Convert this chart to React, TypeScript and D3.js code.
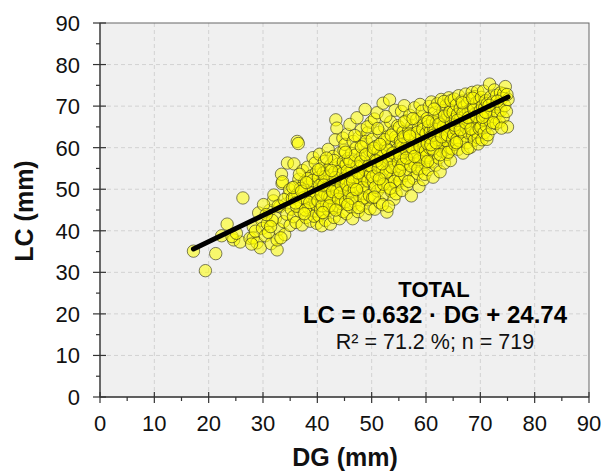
import React from "react";
import * as d3 from "d3";

// DG (mm), LC (mm) pairs, grouped by DG band
const band17to30 = [
  [17.2, 35.1], [19.4, 30.4], [21.3, 34.5], [22.4, 38.8], [23.4, 41.6], [24.6, 37.8], [25.8, 37.3],
  [26.3, 47.9], [24.3, 38.6], [25.1, 39.4], [27.6, 38.2], [28.2, 41.0], [28.2, 38.3], [28.9, 37.1],
  [29.5, 35.9], [28.6, 39.9], [29.8, 42.5], [29.2, 44.3], [27.9, 36.8], [29.9, 40.6],
];
const band30to35 = [
  [30.4, 38.8], [30.8, 41.7], [31.2, 44.9], [31.5, 36.9], [31.9, 47.2], [32.3, 43.1], [32.6, 35.4],
  [32.6, 37.8], [32.9, 40.4], [33.1, 45.8], [33.5, 51.4], [33.4, 53.6], [33.6, 51.8], [33.8, 42.2],
  [34.0, 39.1], [34.2, 46.4], [34.5, 56.3], [34.4, 44.0], [34.7, 48.5], [35.0, 41.3], [30.1, 46.3],
  [31.0, 39.6], [31.7, 42.5], [32.0, 48.6], [32.8, 46.0], [33.3, 38.3], [34.9, 49.9], [30.6, 43.9],
  [31.4, 41.0], [33.9, 47.5],
];
const band35to40 = [
  [35.7, 56.1], [36.3, 61.5], [36.5, 61.0], [35.2, 45.2], [35.4, 47.8], [35.6, 43.4], [35.9, 50.6],
  [36.1, 42.0], [36.4, 48.9], [36.6, 52.4], [36.8, 44.7], [37.0, 46.6], [37.2, 41.4], [37.3, 54.5],
  [37.5, 49.6], [37.7, 51.8], [37.9, 43.2], [38.1, 47.4], [38.2, 55.3], [38.4, 45.5], [38.5, 50.8],
  [38.7, 42.3], [38.9, 53.2], [39.0, 48.0], [39.2, 57.6], [39.3, 44.8], [39.5, 51.1], [39.7, 46.4],
  [39.8, 54.0], [39.9, 41.8], [35.8, 48.0], [36.2, 45.9], [36.9, 50.2], [37.4, 47.9], [37.8, 45.0],
  [38.3, 52.6], [38.8, 49.1], [39.4, 43.5], [39.6, 56.3], [35.5, 50.4], [36.7, 53.6], [37.6, 44.1],
  [38.6, 46.8], [39.1, 52.1], [36.0, 46.7], [37.1, 49.5], [38.0, 51.6], [39.8, 49.0],
];
const band40to45 = [
  [40.1, 47.2], [40.2, 52.8], [40.3, 43.6], [40.4, 58.4], [40.5, 49.9], [40.6, 45.1], [40.7, 55.0],
  [40.8, 41.2], [40.9, 51.5], [41.0, 47.9], [41.1, 53.9], [41.2, 44.3], [41.3, 56.7], [41.4, 49.0],
  [41.5, 42.5], [41.6, 51.9], [41.7, 46.4], [41.8, 54.6], [41.9, 48.3], [42.0, 59.6], [42.1, 44.9],
  [42.2, 52.3], [42.3, 50.1], [42.4, 41.6], [42.5, 55.8], [42.6, 47.1], [42.7, 53.4], [42.8, 45.6],
  [42.9, 57.9], [43.0, 50.7], [43.1, 43.2], [43.2, 54.2], [43.4, 66.7], [43.6, 64.7], [43.3, 61.9],
  [43.5, 48.5], [43.7, 52.0], [43.8, 45.9], [43.9, 56.1], [44.0, 50.3], [44.1, 42.9], [44.2, 58.8],
  [44.3, 53.5], [44.4, 47.4], [44.5, 55.4], [44.6, 49.8], [44.7, 62.3], [44.8, 44.6], [44.9, 51.7],
  [40.4, 50.9], [40.9, 46.0], [41.4, 53.0], [41.8, 50.5], [42.3, 48.0], [42.7, 51.2], [43.1, 56.9],
  [43.6, 49.6], [44.0, 54.3], [44.5, 46.5], [44.9, 59.4], [40.7, 48.6], [41.2, 51.0], [41.7, 57.5],
  [42.2, 46.0], [42.8, 49.4], [43.3, 52.8], [43.9, 47.6], [44.4, 51.0], [44.7, 53.9], [40.2, 54.7],
  [41.0, 44.4], [42.6, 54.5], [43.4, 45.0], [44.2, 49.1], [44.8, 56.6],
];
const band45to50 = [
  [45.0, 52.6], [45.1, 60.8], [45.2, 47.0], [45.3, 55.9], [45.4, 44.1], [45.5, 63.2], [45.6, 50.4],
  [45.7, 57.4], [45.8, 53.8], [45.9, 48.2], [46.0, 65.6], [46.1, 51.6], [46.2, 45.7], [46.3, 58.6],
  [46.4, 54.7], [46.5, 42.9], [46.6, 61.5], [46.7, 49.3], [46.8, 56.2], [46.9, 52.1], [47.0, 46.7],
  [47.1, 59.9], [47.2, 53.4], [47.3, 67.2], [47.4, 50.6], [47.5, 44.6], [47.6, 57.0], [47.7, 62.5],
  [47.8, 48.4], [47.9, 55.1], [48.0, 51.7], [48.1, 64.3], [48.2, 46.1], [48.3, 58.1], [48.4, 53.1],
  [48.5, 60.7], [48.6, 49.0], [48.7, 55.8], [48.8, 69.2], [48.9, 43.8], [49.0, 52.4], [49.1, 57.9],
  [49.2, 47.5], [49.3, 63.6], [49.4, 54.3], [49.5, 50.2], [49.6, 59.3], [49.7, 45.3], [49.8, 56.7],
  [49.9, 66.1], [45.3, 51.2], [45.8, 49.6], [46.3, 53.0], [46.8, 50.0], [47.3, 55.5], [47.8, 52.6],
  [48.3, 50.4], [48.8, 54.6], [49.3, 52.0], [49.8, 53.6], [45.5, 54.4], [46.0, 56.7], [46.5, 51.8],
  [47.0, 58.2], [47.5, 53.9], [48.0, 56.6], [48.5, 47.9], [49.0, 61.5], [49.5, 55.7], [45.2, 58.9],
  [46.4, 47.8], [47.2, 49.9], [48.1, 60.2], [48.9, 58.3], [49.6, 48.5], [46.9, 62.9], [45.6, 46.3],
  [47.6, 45.6], [49.2, 65.0],
];
const band50to55 = [
  [50.0, 55.4], [50.1, 62.0], [50.2, 47.9], [50.3, 58.7], [50.4, 51.6], [50.5, 66.9], [50.6, 45.2],
  [50.7, 57.0], [50.8, 60.3], [50.9, 53.5], [51.0, 68.4], [51.1, 49.6], [51.2, 59.2], [51.3, 55.8],
  [51.4, 63.7], [51.5, 46.8], [51.6, 57.5], [51.7, 52.2], [51.8, 50.6], [51.9, 61.3], [52.0, 55.0],
  [52.1, 70.7], [52.2, 58.6], [52.3, 48.8], [52.4, 64.9], [52.5, 53.7], [52.6, 60.0], [52.7, 56.4],
  [52.8, 44.5], [52.9, 62.6], [53.0, 51.3], [53.1, 58.0], [53.3, 71.5], [53.4, 54.6], [53.5, 66.2],
  [53.6, 49.5], [53.7, 60.9], [53.8, 56.9], [53.9, 52.8], [54.0, 63.8], [54.1, 47.6], [54.2, 58.9],
  [54.3, 69.0], [54.4, 55.5], [54.5, 61.7], [54.6, 51.0], [54.7, 57.8], [54.8, 65.3], [54.9, 53.4],
  [50.2, 53.0], [50.7, 50.5], [51.2, 54.9], [51.7, 58.3], [52.2, 51.2], [52.7, 54.1], [53.2, 57.3],
  [53.7, 55.3], [54.2, 51.9], [54.7, 59.6], [50.4, 59.9], [50.9, 56.8], [51.4, 52.5], [51.9, 56.1],
  [52.4, 61.9], [52.9, 59.4], [53.4, 50.2], [53.9, 58.7], [54.4, 62.6], [54.9, 56.5], [50.5, 48.1],
  [51.1, 64.6], [52.0, 46.3], [52.6, 67.5], [53.6, 63.0], [54.5, 48.9], [51.5, 60.8], [53.1, 45.9],
];
const band55to60 = [
  [55.0, 58.8], [55.1, 64.9], [55.2, 52.0], [55.3, 61.6], [55.4, 55.3], [55.5, 68.7], [55.6, 49.7],
  [55.7, 60.1], [55.8, 63.8], [55.9, 57.1], [56.0, 70.1], [56.1, 53.3], [56.2, 62.4], [56.3, 59.4],
  [56.4, 66.5], [56.5, 51.0], [56.6, 60.8], [56.7, 56.2], [56.8, 64.0], [56.9, 54.6], [57.0, 67.8],
  [57.1, 58.2], [57.2, 61.9], [57.3, 48.4], [57.4, 65.3], [57.5, 57.0], [57.6, 63.3], [57.7, 52.6],
  [57.8, 60.5], [57.9, 69.6], [58.0, 55.9], [58.1, 62.2], [58.2, 58.9], [58.3, 66.8], [58.4, 53.8],
  [58.5, 61.3], [58.6, 64.7], [58.7, 50.6], [58.8, 59.6], [58.9, 70.4], [59.0, 57.4], [59.1, 63.0],
  [59.2, 55.0], [59.3, 67.4], [59.4, 60.9], [59.5, 52.3], [59.6, 65.6], [59.7, 58.1], [59.8, 62.6],
  [59.9, 56.0], [55.2, 58.0], [55.7, 56.0], [56.2, 59.8], [56.7, 61.7], [57.2, 55.6], [57.7, 59.0],
  [58.2, 61.8], [58.7, 57.1], [59.2, 59.5], [59.7, 61.1], [55.4, 60.7], [55.9, 62.6], [56.4, 57.5],
  [56.9, 63.3], [57.4, 60.0], [57.9, 57.9], [58.4, 63.7], [58.9, 60.3], [59.4, 64.4], [59.9, 59.3],
  [55.1, 54.5], [56.0, 66.2], [56.8, 51.9], [57.6, 67.0], [58.5, 54.9], [59.3, 68.8], [59.8, 53.6],
  [57.0, 62.8],
];
const band60to65 = [
  [60.0, 63.4], [60.1, 58.0], [60.2, 67.0], [60.3, 61.2], [60.4, 54.7], [60.5, 65.2], [60.6, 69.9],
  [60.7, 59.9], [60.8, 63.9], [60.9, 56.6], [61.0, 71.0], [61.1, 61.8], [61.2, 66.4], [61.3, 52.9],
  [61.4, 64.6], [61.5, 58.8], [61.6, 68.4], [61.7, 62.3], [61.8, 55.8], [61.9, 66.0], [62.0, 60.6],
  [62.1, 70.6], [62.2, 64.0], [62.3, 57.5], [62.4, 67.5], [62.5, 61.4], [62.6, 54.2], [62.7, 65.7],
  [62.8, 71.6], [62.9, 59.2], [63.0, 63.3], [63.1, 68.9], [63.2, 62.0], [63.4, 56.3], [63.5, 66.6],
  [63.6, 60.3], [63.7, 70.2], [63.8, 64.9], [63.9, 58.4], [64.0, 67.9], [64.1, 62.7], [64.2, 72.0],
  [64.3, 60.0], [64.4, 65.4], [64.5, 56.9], [64.6, 69.3], [64.7, 63.6], [64.8, 59.7], [64.9, 67.2],
  [60.2, 61.0], [60.7, 62.4], [61.2, 59.7], [61.7, 64.4], [62.2, 62.0], [62.7, 63.0], [63.2, 65.1],
  [63.7, 61.7], [64.2, 64.1], [64.7, 66.1], [60.4, 66.3], [60.9, 60.7], [61.4, 63.0], [61.9, 61.2],
  [62.4, 65.7], [62.9, 62.6], [63.4, 67.6], [63.9, 63.1], [64.4, 68.6], [64.9, 62.0], [60.3, 56.7],
  [61.5, 69.3], [62.6, 58.3], [63.3, 71.1], [64.1, 58.9], [64.6, 71.3],
];
const band65to70 = [
  [65.0, 68.5], [65.1, 63.2], [65.2, 71.7], [65.3, 60.8], [65.4, 66.9], [65.5, 64.5], [65.6, 70.3],
  [65.7, 62.0], [65.8, 68.0], [65.9, 59.6], [66.0, 72.5], [66.1, 65.6], [66.2, 61.6], [66.3, 69.4],
  [66.4, 67.1], [66.5, 63.9], [66.6, 71.2], [66.8, 58.7], [66.9, 66.2], [67.0, 69.8], [67.1, 62.9],
  [67.2, 67.7], [67.3, 72.9], [67.4, 64.8], [67.5, 61.2], [67.6, 70.7], [67.7, 66.5], [67.8, 68.8],
  [67.9, 63.5], [68.0, 71.8], [68.1, 65.2], [68.2, 60.1], [68.3, 69.1], [68.4, 67.0], [68.5, 73.3],
  [68.6, 63.0], [68.7, 70.0], [68.8, 66.4], [68.9, 61.8], [69.0, 72.3], [69.1, 68.2], [69.2, 63.8],
  [69.3, 70.9], [69.4, 65.9], [69.5, 73.6], [69.6, 62.4], [69.7, 68.6], [69.8, 66.0], [69.9, 71.4],
  [65.3, 65.4], [65.8, 66.6], [66.3, 64.3], [66.8, 68.3], [67.3, 66.0], [67.8, 67.2], [68.3, 64.5],
  [68.8, 69.2], [69.3, 67.5], [69.8, 64.6], [65.6, 61.2], [66.7, 70.8], [67.7, 59.8], [68.6, 71.9],
  [69.6, 60.9],
];
const band70to76 = [
  [70.0, 68.9], [70.1, 64.9], [70.2, 72.1], [70.3, 61.9], [70.4, 70.0], [70.5, 66.7], [70.6, 73.6],
  [70.7, 63.6], [70.8, 69.5], [70.9, 67.6], [71.0, 71.3], [71.1, 65.2], [71.2, 62.0], [71.3, 70.6],
  [71.4, 63.1], [71.5, 68.2], [71.7, 75.3], [71.8, 66.4], [71.9, 72.2], [72.0, 69.3], [72.2, 64.6],
  [72.3, 71.0], [72.5, 67.5], [72.6, 73.9], [72.8, 69.9], [72.9, 65.8], [73.0, 72.6], [73.2, 68.3],
  [73.4, 70.5], [73.5, 66.2], [73.7, 73.2], [73.8, 69.0], [74.0, 71.9], [74.2, 67.3], [74.3, 73.0],
  [74.5, 70.1], [74.6, 74.7], [74.8, 68.7], [75.0, 65.0], [75.1, 71.6], [74.9, 72.8], [70.4, 67.3],
  [71.0, 68.5], [71.6, 70.2], [72.4, 66.0], [73.1, 71.2], [73.9, 64.7],
];

const points = [
  ...band17to30, ...band30to35, ...band35to40, ...band40to45, ...band45to50,
  ...band50to55, ...band55to60, ...band60to65, ...band65to70, ...band70to76,
];

// fitted line LC = 0.632 * DG + 24.74, drawn over the observed DG span
const fitSlope = 0.632;
const fitIntercept = 24.74;
const fitRange = [17.2, 75.1];

const majorTicks = [0, 10, 20, 30, 40, 50, 60, 70, 80, 90];
const minorTicks = [5, 15, 25, 35, 45, 55, 65, 75, 85];

const W = 603;
const H = 476;
const left = 100;
const right = 589;
const top = 23;
const bottom = 397;
const font = "'Liberation Sans', Arial, Helvetica, sans-serif";

export default function App() {
  const x = d3.scaleLinear().domain([0, 90]).range([left, right]);
  const y = d3.scaleLinear().domain([0, 90]).range([bottom, top]);

  const line = d3
    .line<number>()
    .x((d) => x(d))
    .y((d) => y(fitSlope * d + fitIntercept));

  return (
    <svg width={W} height={H} style={{ position: "absolute", left: 0, top: 0, background: "#fff" }} fontFamily={font}>
      {/* plot background */}
      <rect x={left} y={top} width={right - left} height={bottom - top} fill="#f0f0f0" />

      {/* dashed grid */}
      <g stroke="#d2d2d2" strokeWidth={1} strokeDasharray="4,3">
        {majorTicks.slice(1, -1).map((t) => (
          <line key={"gx" + t} x1={x(t)} x2={x(t)} y1={top} y2={bottom} />
        ))}
        {majorTicks.slice(1, -1).map((t) => (
          <line key={"gy" + t} x1={left} x2={right} y1={y(t)} y2={y(t)} />
        ))}
      </g>

      {/* points */}
      <g>
        {points.map((p, i) => (
          <circle
            key={i}
            cx={x(p[0])}
            cy={y(p[1])}
            r={6.2}
            fill="#ffff00"
            fillOpacity={0.55}
            stroke="#3a3a20"
            strokeOpacity={0.65}
            strokeWidth={1}
          />
        ))}
      </g>

      {/* regression line */}
      <path d={line(fitRange) || ""} stroke="#000" strokeWidth={5} strokeLinecap="round" fill="none" />

      {/* frame */}
      <rect x={left} y={top} width={right - left} height={bottom - top} fill="none" stroke="#666" strokeWidth={1} />
      <line x1={left} x2={right} y1={bottom} y2={bottom} stroke="#444" strokeWidth={1.3} />
      <line x1={left} x2={left} y1={top} y2={bottom} stroke="#444" strokeWidth={1.3} />

      {/* ticks */}
      <g stroke="#333" strokeWidth={1.2}>
        {majorTicks.map((t) => (
          <line key={"tx" + t} x1={x(t)} x2={x(t)} y1={bottom - 5} y2={bottom + 6} />
        ))}
        {minorTicks.map((t) => (
          <line key={"mx" + t} x1={x(t)} x2={x(t)} y1={bottom} y2={bottom + 4} />
        ))}
        {majorTicks.map((t) => (
          <line key={"ty" + t} x1={left - 7} x2={left + 6} y1={y(t)} y2={y(t)} />
        ))}
        {minorTicks.map((t) => (
          <line key={"my" + t} x1={left - 4} x2={left} y1={y(t)} y2={y(t)} />
        ))}
      </g>

      {/* tick labels */}
      <g fontSize={22} fill="#111">
        {majorTicks.map((t) => (
          <text key={"lx" + t} x={x(t)} y={bottom + 34} textAnchor="middle">
            {t}
          </text>
        ))}
        {majorTicks.map((t) => (
          <text key={"ly" + t} x={left - 20} y={y(t) + 8} textAnchor="end">
            {t}
          </text>
        ))}
      </g>

      {/* axis titles */}
      <text x={345} y={466} textAnchor="middle" fontSize={25} fontWeight="bold" fill="#111">
        DG (mm)
      </text>
      <text
        transform={`translate(33, ${211}) rotate(-90)`}
        textAnchor="middle"
        fontSize={25}
        fontWeight="bold"
        fill="#111"
      >
        LC (mm)
      </text>

      {/* annotation */}
      <text x={434} y={297} textAnchor="middle" fontSize={22} fontWeight="bold" fill="#000">
        TOTAL
      </text>
      <text x={435} y={323} textAnchor="middle" fontSize={24} fontWeight="bold" fill="#000">
        LC = 0.632 · DG + 24.74
      </text>
      <text x={435} y={349} textAnchor="middle" fontSize={21.5} fill="#111">
        R² = 71.2 %; n = 719
      </text>
    </svg>
  );
}
